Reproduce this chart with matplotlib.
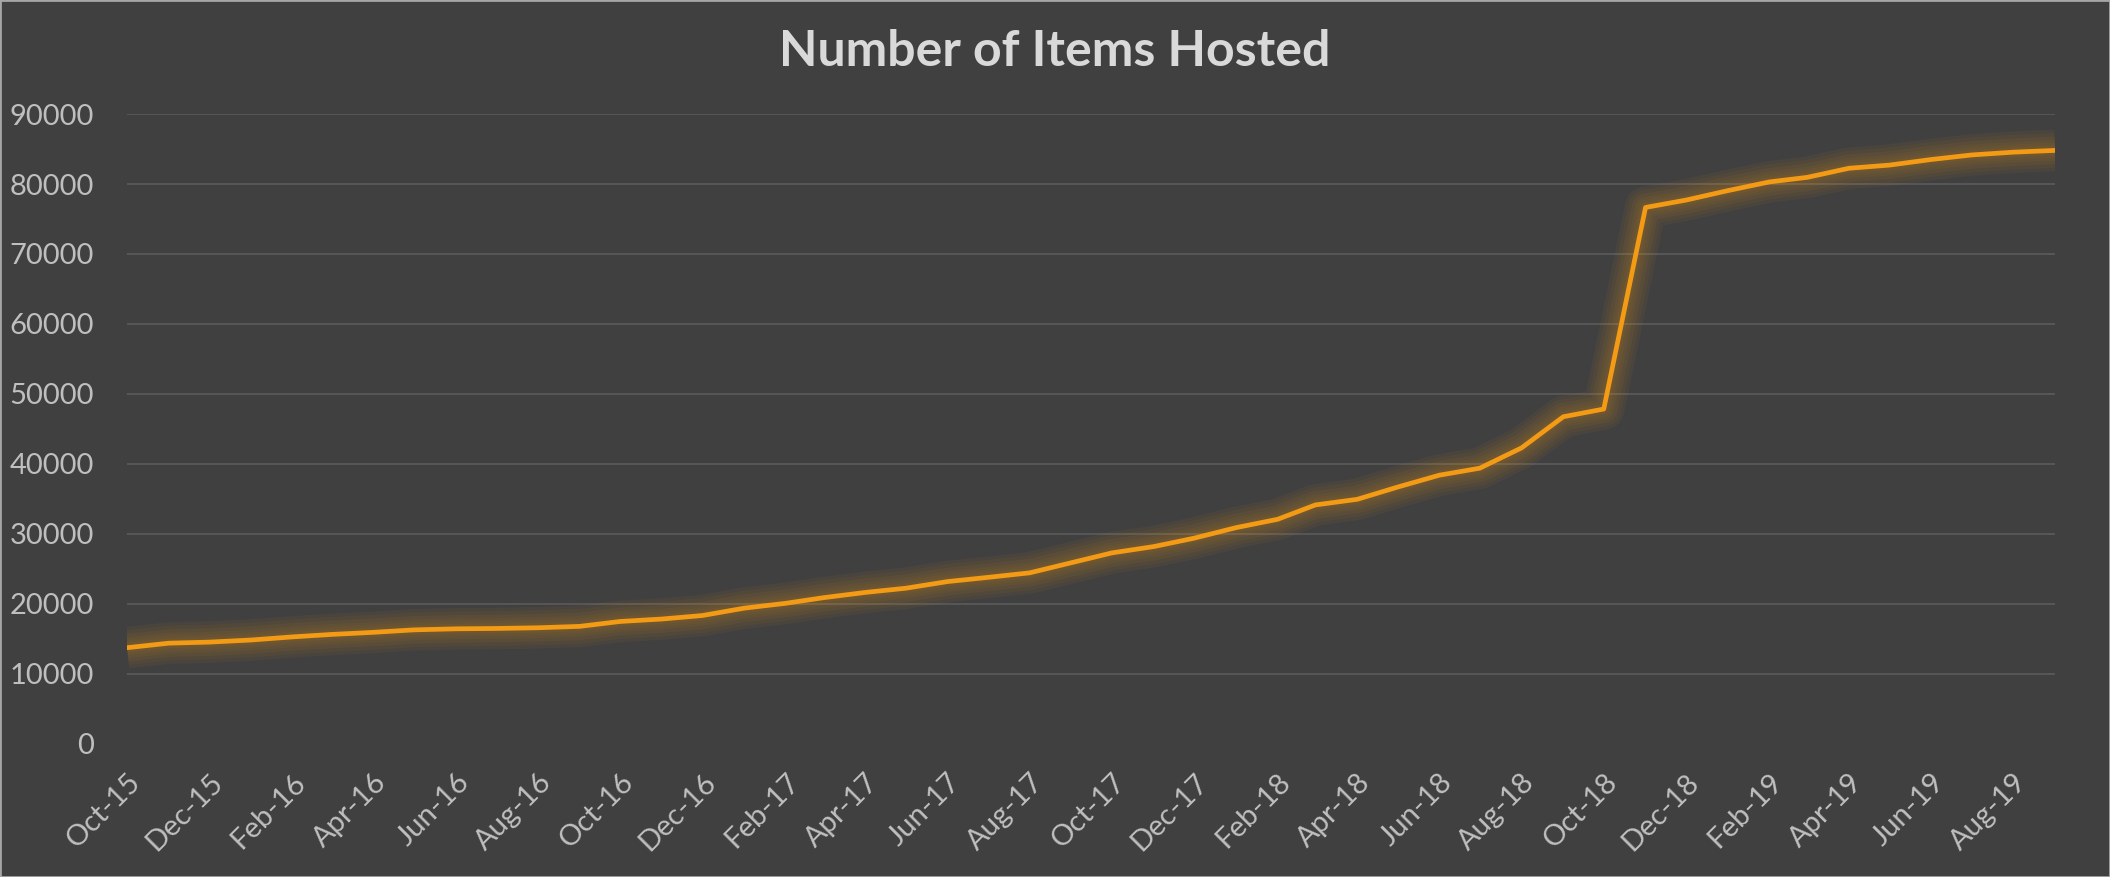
# items_hosted.py
# -*- coding: utf-8 -*-

import matplotlib.pyplot as plt
import pandas as pd
from matplotlib.patches import Rectangle

# Monthly points, Oct-15 to Sep-19.
months = pd.date_range("2015-10-01", periods=48, freq="MS")
items = [
    13750, 14400, 14550, 14850, 15300, 15650, 15950, 16300, 16450, 16500,
    16600, 16800, 17500, 17850, 18350, 19400, 20100, 20900, 21650, 22250,
    23200, 23800, 24450, 25900, 27300, 28200, 29400, 30900, 32100, 34150,
    34950, 36700, 38400, 39400, 42300, 46750, 47850, 76650, 77700, 79050,
    80300, 80950, 82250, 82700, 83500, 84150, 84550, 84800,
]

bg = "#404040"
orange = "#f39b14"
text_grey = "#bfbfbf"
font = ["Lato", "DejaVu Sans"]

fig = plt.figure(figsize=(21.1, 8.77), dpi=100, facecolor=bg)
ax = fig.add_axes([0.0602, 0.1517, 0.9138, 0.7183], facecolor=bg)

# Soft glow behind the line.
for w in [30, 25, 20, 15, 11, 7]:
    ax.plot(months, items, color=orange, lw=w, alpha=0.05,
            solid_joinstyle="round", solid_capstyle="butt")
ax.plot(months, items, color=orange, lw=3.4, solid_joinstyle="round", zorder=3)

ax.set_xlim(months[0], months[-1])
ax.set_ylim(0, 90000)
ax.set_yticks(range(0, 90001, 10000))
ax.grid(axis="y", color="#565656", lw=1.5)
ax.get_ygridlines()[0].set_visible(False)
ax.set_axisbelow(True)
for s in ax.spines.values():
    s.set_visible(False)

tick_months = months[::2][:24]
ax.set_xticks(tick_months)
ax.set_xticklabels([d.strftime("%b-%y") for d in tick_months])
ax.tick_params(axis="both", length=0, colors=text_grey, labelsize=21)
ax.tick_params(axis="y", pad=24)
ax.tick_params(axis="x", pad=18)
for lab in ax.get_xticklabels():
    lab.set_rotation(45)
    lab.set_ha("right")
    lab.set_rotation_mode("anchor")
    lab.set_family(font)
for lab in ax.get_yticklabels():
    lab.set_family(font)

fig.text(0.5, 0.941, "Number of Items Hosted", ha="center", va="center",
         fontsize=36, fontweight="bold", color="#d9d9d9", family=font)

# Thin frame around the whole chart.
fig.patches.append(Rectangle((0, 0), 1, 1, transform=fig.transFigure,
                             fill=False, edgecolor="#a6a6a6", lw=2))

fig.savefig("out.png", dpi=100, facecolor=bg)
